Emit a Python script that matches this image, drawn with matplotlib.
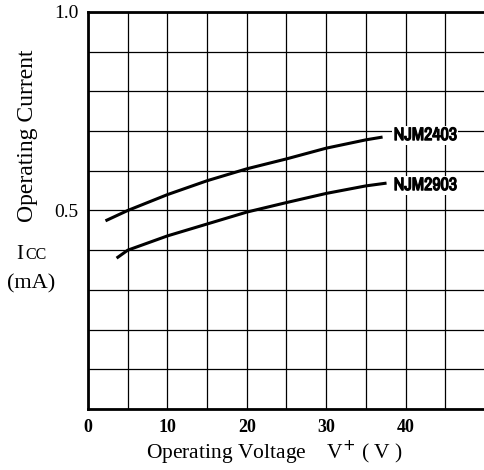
import matplotlib.pyplot as plt
from matplotlib import font_manager
import matplotlib.patheffects as pe
import numpy as np

# NJM2403 / NJM2903 operating current vs supply voltage
v_2403 = [2.2, 5, 10, 15, 20, 25, 30, 35, 37.1]
i_2403 = [0.474, 0.50, 0.54, 0.575, 0.605, 0.63, 0.657, 0.678, 0.685]
v_2903 = [3.6, 5, 10, 15, 20, 25, 30, 35, 37.6]
i_2903 = [0.38, 0.40, 0.436, 0.466, 0.496, 0.52, 0.543, 0.562, 0.569]

xticks = [0, 10, 20, 30, 40]
yticks = [0.5, 1.0]

serif = ['Liberation Serif', 'DejaVu Serif']

# narrow font for the part names if there is one
names = sorted(set(f.name for f in font_manager.fontManager.ttflist))
narrow_name = None
for n in names:
    if 'Narrow' in n or 'Condensed' in n:
        narrow_name = n
        break
if narrow_name:
    part_font = dict(fontfamily=[narrow_name, 'DejaVu Sans'], fontsize=13)
else:
    part_font = dict(fontfamily=['Liberation Sans', 'DejaVu Sans'], fontsize=10)
heavy = [pe.withStroke(linewidth=0.9, foreground='black')]

fig = plt.figure(figsize=(4.85, 4.7), dpi=100)
ax = fig.add_axes([88/485, 61/470, 397/485, 397/470])

ax.plot(v_2403, i_2403, color='black', lw=2.2, solid_capstyle='butt')
ax.plot(v_2903, i_2903, color='black', lw=2.2, solid_capstyle='butt')

ax.set_xlim(0, 50)
ax.set_ylim(0, 1.0)
ax.set_xticks(np.arange(0, 51, 5), minor=True)
ax.set_yticks(np.arange(0, 1.01, 0.1), minor=True)
ax.set_xticks(xticks)
ax.set_yticks(yticks)
ax.set_xticklabels([str(t) for t in xticks], fontfamily=serif, fontsize=13, fontweight='bold')
ax.set_yticklabels(['0.5', '1.0'], fontfamily=serif, fontsize=14)
ax.tick_params(which='both', length=0, pad=7)
ax.grid(which='minor', color='black', lw=0.9)
ax.grid(which='major', color='black', lw=0.9)
ax.set_axisbelow(True)

for s in ['left', 'top', 'bottom']:
    ax.spines[s].set_linewidth(2)
ax.spines['right'].set_visible(False)

ax.text(38.5, 0.69, 'NJM2403', fontweight='bold', va='center', ha='left', path_effects=heavy,
        bbox=dict(facecolor='white', edgecolor='none', pad=1), **part_font)
ax.text(38.5, 0.564, 'NJM2903', fontweight='bold', va='center', ha='left', path_effects=heavy,
        bbox=dict(facecolor='white', edgecolor='none', pad=1), **part_font)

fig.text(28/485, 1 - 136/470, 'Operating Current', rotation=90, ha='center', va='center',
         fontfamily=serif, fontsize=17)
fig.text(16/485, 1 - 259/470, 'I', ha='left', va='baseline',
         fontfamily=serif, fontsize=15)
fig.text(25/485, 1 - 259/470, 'CC', ha='left', va='baseline',
         fontfamily=serif, fontsize=11.5)
fig.text(31/485, 1 - 284/470, '(mA)', ha='center', va='center',
         fontfamily=serif, fontsize=16)
fig.text(274/485, 1 - 453/470, 'Operating Voltage    V$^{+}$ ( V )', ha='center', va='center',
         fontfamily=serif, fontsize=15.5)

fig.savefig('out.png', dpi=100)
